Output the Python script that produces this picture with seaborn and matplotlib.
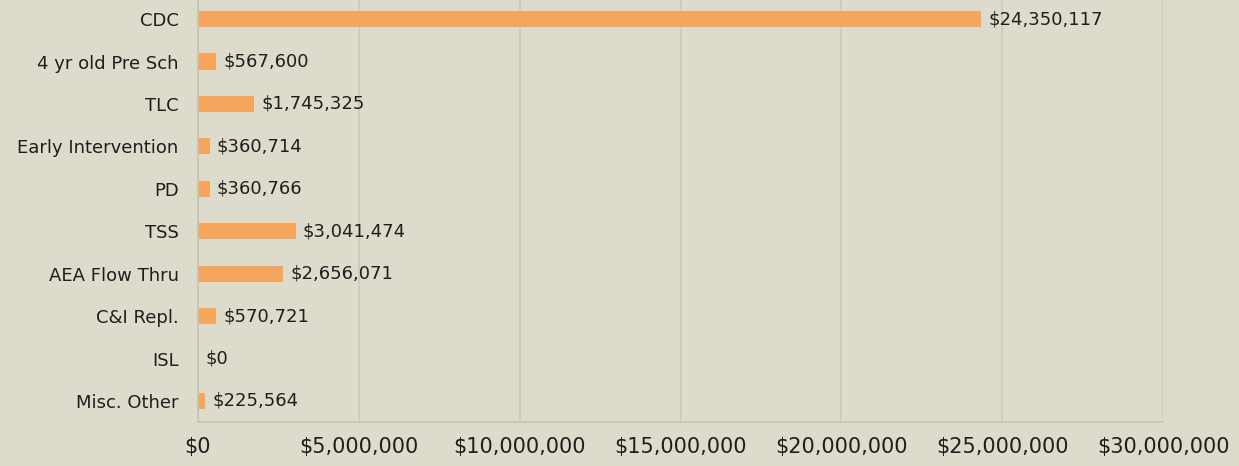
import matplotlib
matplotlib.use("Agg")
import matplotlib.pyplot as plt
import seaborn as sns
import pandas as pd

# data
categories = ["CDC", "4 yr old Pre Sch", "TLC", "Early Intervention", "PD",
              "TSS", "AEA Flow Thru", "C&I Repl.", "ISL", "Misc. Other"]
amounts = [24350117, 567600, 1745325, 360714, 360766,
           3041474, 2656071, 570721, 0, 225564]
xticks = [0, 5000000, 10000000, 15000000, 20000000, 25000000, 30000000]

df = pd.DataFrame({"category": categories, "amount": amounts})

bg = "#dcdbcc"
sns.set_style("white")
plt.rcParams["font.family"] = ["DejaVu Sans"]

fig = plt.figure(figsize=(12.39, 4.66), dpi=100, facecolor=bg)
ax = fig.add_axes([0.1598, 0.094, 0.7789, 0.906])
ax.set_facecolor(bg)

sns.barplot(data=df, x="amount", y="category", color="#f6a55c", saturation=1,
            width=0.38, linewidth=0, ax=ax, orient="h")

ax.set_xlim(0, 30000000)
ax.set_ylim(9.5, -0.45)
ax.set_xticks(xticks)
ax.set_xticklabels([f"${v:,.0f}" for v in xticks])
ax.xaxis.grid(True, color="#cac9ba", linewidth=1.2)
ax.set_axisbelow(True)
ax.set_xlabel("")
ax.set_ylabel("")
ax.tick_params(axis="both", length=0, colors="#1e1e1e")
ax.tick_params(axis="y", pad=14, labelsize=13)
ax.tick_params(axis="x", pad=11, labelsize=15)
for s in ["top", "right"]:
    ax.spines[s].set_visible(False)
ax.spines["left"].set_color("#c4c3b4")
ax.spines["bottom"].set_color("#c4c3b4")
ax.spines["left"].set_linewidth(1.2)
ax.spines["bottom"].set_linewidth(1.2)

for i, v in enumerate(amounts):
    ax.text(v + 220000, i, f"${v:,.0f}", va="center", ha="left",
            fontsize=13, color="#1e1e1e")

fig.savefig("out.png", dpi=100, facecolor=bg)
